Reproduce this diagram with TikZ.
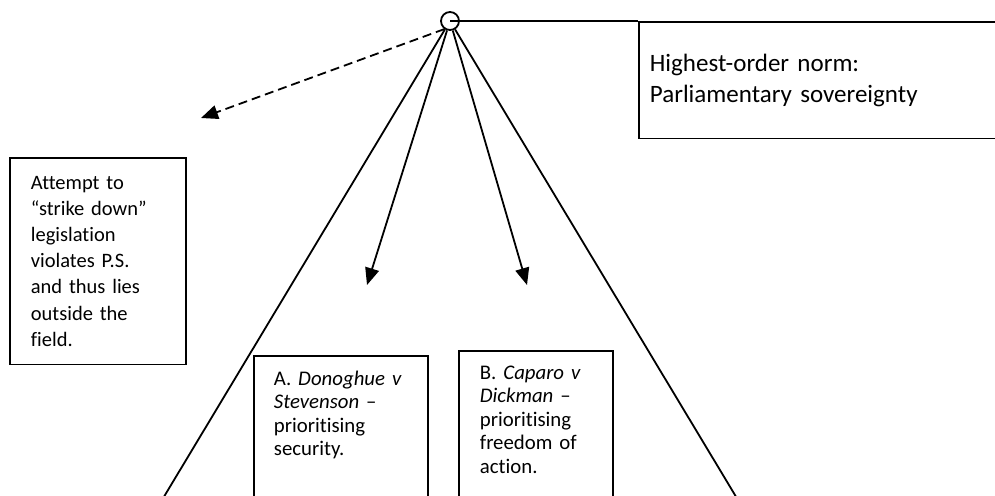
\documentclass[tikz,border=0pt]{standalone}
\usepackage{fontspec}
\setmainfont{Carlito}[Ligatures=CommonOff]
\usetikzlibrary{arrows.meta}

\begin{document}
\begin{tikzpicture}[
  x=1pt, y=-1pt,
  line width=1.8pt,
  box/.style={draw, anchor=north west, align=left, inner xsep=21pt},
  casefont/.style={font=\fontsize{20.8}{23.4}\selectfont},
  tip/.style={-{Triangle[length=17pt,width=14pt]}},
]
\clip (0,0) rectangle (995,495);
% apex of the field and the highest-order norm
\node[draw, circle, minimum size=18pt, inner sep=0pt] (apex) at (450,21) {};
\node[box, inner xsep=11pt, inner ysep=32pt, text width=400pt,
  font=\fontsize{25}{31}\selectfont] (norm) at (638,21)
  {Highest-order norm:\\Parliamentary sovereignty};
\draw (apex.center) -- (norm.north west);
% boundaries of the field
\coordinate (fieldL) at (159,505);
\coordinate (fieldR) at (741,505);
\draw (apex) -- (fieldL);
\draw (apex) -- (fieldR);
% outside the field
\node[box, inner ysep=18pt, text width=134pt,
  font=\fontsize{20.5}{26.2}\selectfont] (outside) at (9,157)
  {Attempt to\\“strike down”\\legislation\\violates P.S.\\and thus lies\\outside the\\field.};
\coordinate (aimOut) at (201,118);
\draw[tip, dash pattern=on 9pt off 5pt] (apex.235) -- (aimOut);
% the two cases inside the field
\node[box, casefont, inner xsep=20pt, inner ysep=15pt, text width=134pt,
  text depth=150pt] (caseA) at (253,355)
  {A. \textit{Donoghue v}\\\textit{Stevenson} –\\prioritising\\security.};
\node[box, casefont, inner ysep=15pt, text width=112pt,
  text depth=150pt] (caseB) at (458,350)
  {B. \textit{Caparo v}\\\textit{Dickman} –\\prioritising\\freedom of\\action.};
\coordinate (aimA) at (367,285);
\coordinate (aimB) at (527,285);
\draw[tip] (apex) -- (aimA);
\draw[tip] (apex) -- (aimB);
\end{tikzpicture}
\end{document}
